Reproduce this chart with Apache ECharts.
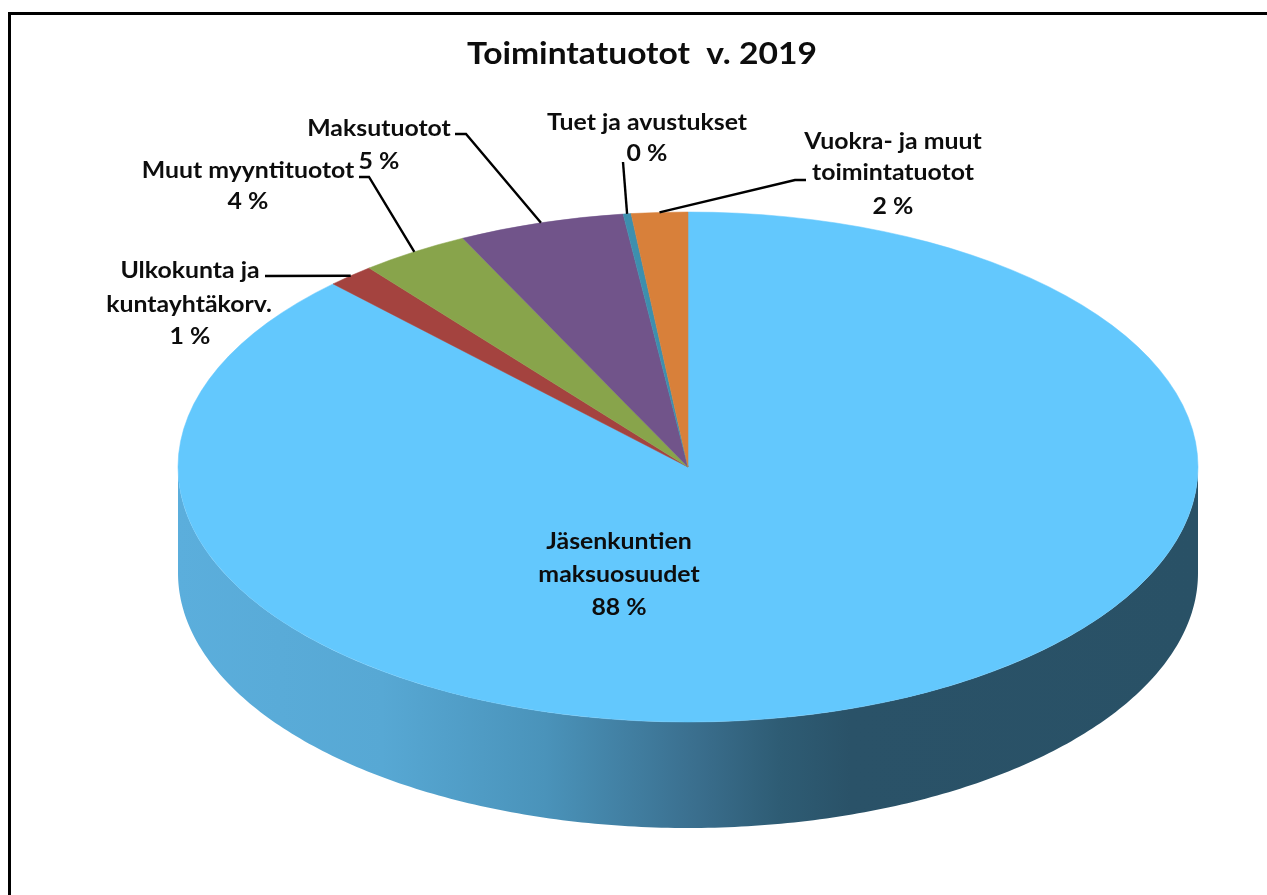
<!DOCTYPE html>
<html lang="fi">
<head>
<meta charset="UTF-8">
<title>Toimintatuotot v. 2019</title>
<script src="https://cdn.jsdelivr.net/npm/echarts@6/dist/echarts.min.js"></script>
<style>
  html, body { margin: 0; background: #fff; }
  #main { width: 1267px; height: 895px; }
</style>
</head>
<body>
<div id="main"></div>
<script type="text/javascript">
// clockwise from 12 o'clock, same order as the original
var chartTitle = 'Toimintatuotot  v. 2019';
var categories = ['Jäsenkuntien\nmaksuosuudet', 'Ulkokunta ja\nkuntayhtäkorv.', 'Muut myyntituotot', 'Maksutuotot', 'Tuet ja avustukset', 'Vuokra- ja muut\ntoimintatuotot'];
var percentLabels = ['88 %', '1 %', '4 %', '5 %', '0 %', '2 %'];
// slice shares as drawn in the picture (%)
var sliceValues = [87.75, 1.5, 3.47, 5.25, 0.25, 1.78];
var sliceColors = ['#63C8FD', '#A4433F', '#88A44B', '#71548A', '#3D8FAE', '#D8803A'];

// pie geometry
var CX = 688, CY = 467, RX = 510, RY = 255, DEPTH = 106;

// label lines: x centre per line, y centre per line
var labelX = [[619, 619, 619], [190, 189, 190], [248, 248], [379, 379], [647, 647], [893, 893, 893]];
var labelY = [[542, 575, 608], [271, 305, 337], [171, 202], [129, 162], [123, 154], [142, 173, 207]];
// leader start and elbow, the end is worked out from the slice
var leaderPts = [
    null,
    [[265, 276]],
    [[359, 177], [369, 177]],
    [[455, 134], [466, 134]],
    [[623, 162]],
    [[806, 180], [795, 180]]
];

var total = sliceValues.reduce(function (a, b) { return a + b; }, 0);
function startOf(idx) {
    var s = 0;
    for (var i = 0; i < idx; i++) s += sliceValues[i];
    return s / total * Math.PI * 2 - Math.PI / 2;
}
function rimPoint(a, dy) {
    return [CX + RX * Math.cos(a), CY + RY * Math.sin(a) + (dy || 0)];
}

function renderSlice(params, api) {
    var idx = params.dataIndex;
    var a0 = startOf(idx);
    var a1 = a0 + api.value(0) / total * Math.PI * 2;
    var children = [];
    if (idx === 0) {
        // front wall, only the big slice shows it
        var pts = [], n = 240, i;
        for (i = 0; i <= n; i++) pts.push(rimPoint(Math.PI * i / n));
        for (i = n; i >= 0; i--) pts.push(rimPoint(Math.PI * i / n, DEPTH));
        children.push({
            type: 'polygon',
            shape: { points: pts },
            style: {
                fill: new echarts.graphic.LinearGradient(0, 0, 1, 0, [
                    { offset: 0, color: '#5BAEDC' },
                    { offset: 0.2, color: '#57A8D4' },
                    { offset: 0.36, color: '#4A93BA' },
                    { offset: 0.51, color: '#3A6E8D' },
                    { offset: 0.59, color: '#2E5C74' },
                    { offset: 0.66, color: '#2A5268' },
                    { offset: 1, color: '#295166' }
                ])
            }
        });
    }
    children.push({
        type: 'group',
        x: CX,
        y: CY,
        scaleY: RY / RX,
        children: [{
            type: 'sector',
            shape: { cx: 0, cy: 0, r: RX, startAngle: a0, endAngle: a1, clockwise: true },
            style: { fill: sliceColors[idx], stroke: sliceColors[idx], lineWidth: 0.7 }
        }]
    });
    return { type: 'group', children: children };
}

// the original type is wider than Lato, so the text is stretched a bit
function wideText(txt, x, y, font, stretch) {
    return {
        type: 'text',
        x: x,
        y: y,
        scaleX: stretch,
        style: {
            text: txt,
            x: 0,
            y: 0,
            align: 'center',
            verticalAlign: 'middle',
            fill: '#0D0D0D',
            font: font
        }
    };
}

function renderLabel(params, api) {
    var idx = params.dataIndex;
    var a0 = startOf(idx);
    var mid = a0 + api.value(0) / total * Math.PI;
    var children = [];
    if (leaderPts[idx]) {
        children.push({
            type: 'polyline',
            shape: { points: leaderPts[idx].concat([rimPoint(mid)]) },
            style: { stroke: '#000', lineWidth: 2.4, fill: null }
        });
    }
    var lines = categories[idx].split('\n').concat([percentLabels[idx]]);
    lines.forEach(function (txt, k) {
        children.push(wideText(txt, labelX[idx][k], labelY[idx][k], 'bold 23px Lato', 1.08));
    });
    return { type: 'group', children: children };
}

var myChart = echarts.init(document.getElementById('main'));
var option = {
    animation: false,
    backgroundColor: '#fff',
    // frame only shows on the top and left in the original
    graphic: [
        { type: 'rect', shape: { x: 8, y: 12, width: 1259, height: 3 }, style: { fill: '#000' } },
        { type: 'rect', shape: { x: 8, y: 12, width: 3, height: 883 }, style: { fill: '#000' } },
        wideText(chartTitle, 642, 54, 'bold 30px Lato', 1.12)
    ],
    series: [
        {
            type: 'custom',
            coordinateSystem: 'none',
            silent: true,
            renderItem: renderSlice,
            data: sliceValues.map(function (v) { return [v]; })
        },
        {
            type: 'custom',
            coordinateSystem: 'none',
            silent: true,
            z: 3,
            renderItem: renderLabel,
            data: sliceValues.map(function (v) { return [v]; })
        }
    ]
};
myChart.setOption(option);
</script>
</body>
</html>
